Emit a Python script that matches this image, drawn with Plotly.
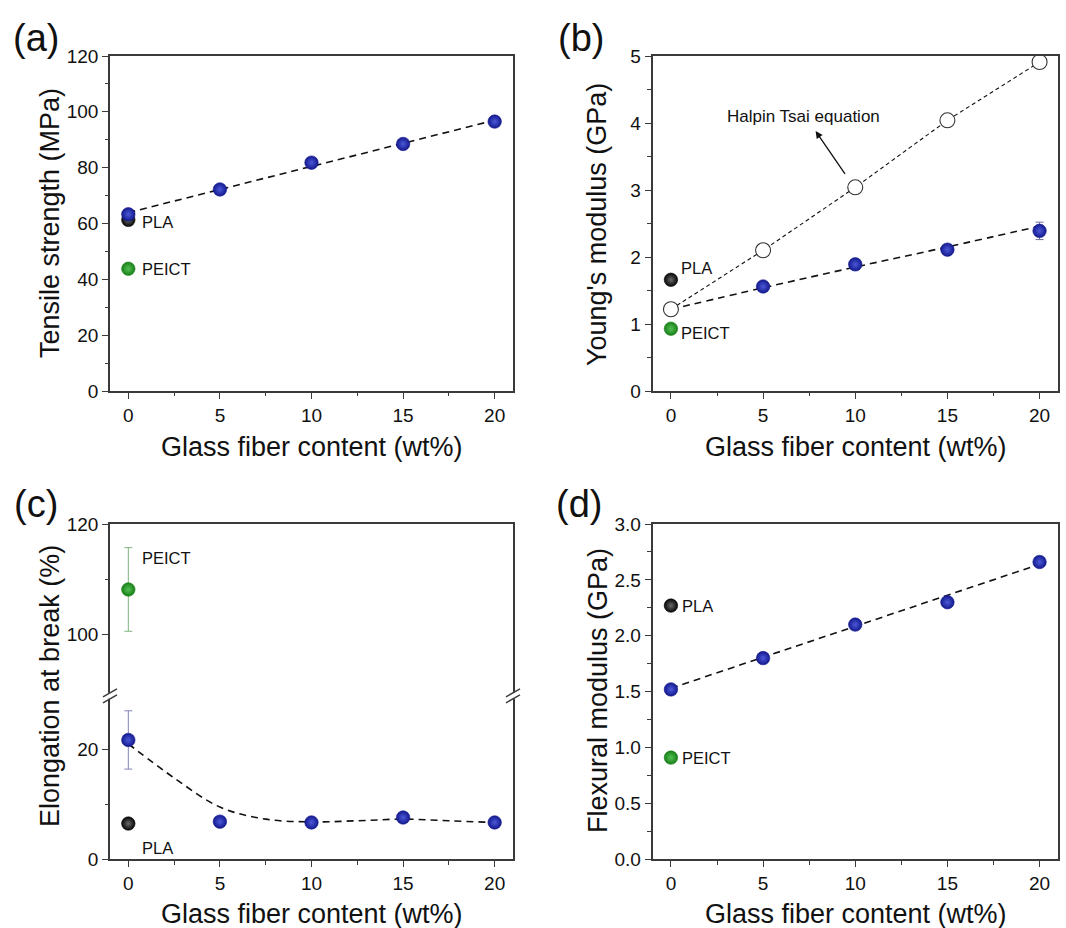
import plotly.graph_objects as go

W, H = 1066, 928

# ---------------- data ----------------
gf = [0, 5, 10, 15, 20]

# (a) tensile strength (MPa)
a_blend = [63.3, 72.2, 81.8, 88.5, 96.5]
a_pla = [61.3]
a_peict = [43.8]
a_fit_x = [0, 20]
a_fit_y = [63.9, 97.0]

# (b) Young's modulus (GPa)
b_blend = [1.22, 1.56, 1.89, 2.11, 2.39]
b_blend_err = [0.0, 0.0, 0.0, 0.0, 0.13]
b_halpin = [1.22, 2.10, 3.04, 4.04, 4.91]
b_pla = [1.66]
b_peict = [0.93]
b_fit_x = [0, 5, 10, 15, 20]
b_fit_y = [1.22, 1.54, 1.85, 2.15, 2.46]

# (c) elongation at break (%)
c_blend = [21.7, 6.85, 6.7, 7.6, 6.7]
c_blend_err = [5.3, 0.0, 0.0, 0.0, 0.0]
c_pla = [6.5]
c_peict = [108.1]
c_peict_err = [7.6]
c_fit_x = [0, 2.5, 5, 7.5, 10, 12.5, 15, 17.5, 20]
c_fit_y = [21.0, 14.8, 9.5, 7.3, 6.8, 7.0, 7.3, 7.0, 6.7]

# (d) flexural modulus (GPa)
d_blend = [1.52, 1.80, 2.10, 2.30, 2.66]
d_pla = [2.27]
d_peict = [0.91]
d_fit_x = [0, 20]
d_fit_y = [1.53, 2.64]

x_ticks = [0, 5, 10, 15, 20]
x_title = "Glass fiber content (wt%)"
y_titles = ["Tensile strength (MPa)", "Young's modulus (GPa)",
            "Elongation at break (%)", "Flexural modulus (GPa)"]

# ---------------- styles ----------------
FONT = "Arial, Liberation Sans, sans-serif"
BLUE, BLUE_C = "#141a8e", "#4b58d8"
GREEN, GREEN_C = "#1a7f1a", "#52c052"
BLACK, BLACK_C = "#050505", "#6a6a6a"
AX = "#3a3a3a"
MS = 13.5


def px(x):
    return x / W


def py(y):
    return 1 - y / H


def sphere(color, center, size=MS):
    return dict(size=size, color=color,
                gradient=dict(type="radial", color=center),
                line=dict(width=0.6, color=color))


fig = go.Figure()


def dashed(x, y, xa, ya, shape="linear", width=1.6, dash="7px,5px"):
    fig.add_trace(go.Scatter(x=x, y=y, mode="lines", xaxis=xa, yaxis=ya,
                             line=dict(color="#111", width=width, dash=dash,
                                       shape=shape, smoothing=1.0),
                             hoverinfo="skip"))


def pts(x, y, xa, ya, color, center, err=None, errcolor=None):
    kw = {}
    if err is not None:
        kw["error_y"] = dict(type="data", array=err, visible=True,
                             color=errcolor, thickness=1, width=4)
    fig.add_trace(go.Scatter(x=x, y=y, mode="markers", xaxis=xa, yaxis=ya,
                             marker=sphere(color, center), **kw))


# (a)
dashed(a_fit_x, a_fit_y, "x", "y")
pts([0], a_pla, "x", "y", BLACK, BLACK_C)
pts([0], a_peict, "x", "y", GREEN, GREEN_C)
pts(gf, a_blend, "x", "y", BLUE, BLUE_C)

# (b)
dashed(gf, b_halpin, "x2", "y2", width=1.1, dash="4px,3px")
dashed(b_fit_x, b_fit_y, "x2", "y2", shape="spline")
pts([0], b_pla, "x2", "y2", BLACK, BLACK_C)
pts([0], b_peict, "x2", "y2", GREEN, GREEN_C)
pts(gf, b_blend, "x2", "y2", BLUE, BLUE_C, err=b_blend_err, errcolor="#6d6fa8")
fig.add_trace(go.Scatter(x=gf, y=b_halpin, mode="markers", xaxis="x2", yaxis="y2",
                         marker=dict(size=15, color="white",
                                     line=dict(width=1.1, color="#333"))))

# (c) lower / upper
dashed(c_fit_x, c_fit_y, "x3", "y3", shape="spline")
pts([0], c_pla, "x3", "y3", BLACK, BLACK_C)
pts(gf, c_blend, "x3", "y3", BLUE, BLUE_C, err=c_blend_err, errcolor="#8285b8")
pts([0], c_peict, "x4", "y4", GREEN, GREEN_C, err=c_peict_err, errcolor="#7fb57f")

# (d)
dashed(d_fit_x, d_fit_y, "x5", "y5")
pts([0], d_pla, "x5", "y5", BLACK, BLACK_C)
pts([0], d_peict, "x5", "y5", GREEN, GREEN_C)
pts(gf, d_blend, "x5", "y5", BLUE, BLUE_C)

# ---------------- axes ----------------
XL = [px(110), px(513)]
XR = [px(652.5), px(1058)]
YT = [py(391), py(56)]
YB = [py(859.3), py(524)]

tickfont = dict(family=FONT, size=19, color="#111")
titlefont = dict(family=FONT, size=27, color="#111")


def xax(domain, anchor, **extra):
    d = dict(domain=domain, anchor=anchor, range=[-1, 21], automargin=False,
             tickvals=x_ticks, ticks="outside", ticklen=6, tickwidth=1.3,
             tickcolor=AX, showline=True, linecolor=AX, linewidth=1.6,
             mirror=True, showgrid=False, zeroline=False, tickfont=tickfont,
             minor=dict(ticks="outside", ticklen=3.5, tickwidth=1.1,
                        tickcolor=AX, tickvals=[2.5, 7.5, 12.5, 17.5]))
    d.update(extra)
    return d


def yax(domain, anchor, rng, dtick, minor, **extra):
    d = dict(domain=domain, anchor=anchor, range=rng, dtick=dtick, automargin=False,
             ticks="outside", ticklen=6, tickwidth=1.3, tickcolor=AX,
             showline=True, linecolor=AX, linewidth=1.6, mirror=True,
             showgrid=False, zeroline=False, tickfont=tickfont,
             minor=dict(ticks="outside", ticklen=3.5, tickwidth=1.1,
                        tickcolor=AX, **minor))
    d.update(extra)
    return d


c_low_top = 859.3 - 29.5 * 5.5
c_up_bot = 524 + 31 * 5.5

fig.update_layout(
    xaxis=xax(XL, "y"),
    yaxis=yax(YT, "x", [0, 120], 20, dict(dtick=10)),
    xaxis2=xax(XR, "y2"),
    yaxis2=yax(YT, "x2", [0, 5], 1, dict(dtick=0.5)),
    xaxis3=xax(XL, "y3", mirror=False),
    yaxis3=yax([py(859.3), py(c_low_top)], "x3", [0, 29.5], 20, dict(tickvals=[10])),
    xaxis4=xax(XL, "y4", side="top", mirror=False, ticks="",
               showticklabels=False, minor=dict(ticks="")),
    yaxis4=yax([py(c_up_bot), py(524)], "x4", [89, 120], None,
               dict(tickvals=[110]), tickvals=[100, 120]),
    xaxis5=xax(XR, "y5"),
    yaxis5=yax(YB, "x5", [0, 3], 0.5, dict(dtick=0.25), tickformat=".1f"),
    width=W, height=H, margin=dict(l=0, r=0, t=0, b=0, autoexpand=False),
    paper_bgcolor="white", plot_bgcolor="white", showlegend=False,
    font=dict(family=FONT, color="#111"),
)

ann = []

# axis titles
for xx, yy in [(312, 447), (856, 447), (312, 914), (856, 914)]:
    ann.append(dict(text=x_title, xref="paper", yref="paper", x=px(xx), y=py(yy),
                    showarrow=False, font=titlefont, xanchor="center", yanchor="middle"))
for t, xx, yy in zip(y_titles, [50, 597, 50, 598], [223, 225, 686, 691]):
    ann.append(dict(text=t, xref="paper", yref="paper", x=px(xx), y=py(yy),
                    textangle=-90, showarrow=False, font=titlefont,
                    xanchor="center", yanchor="middle"))

# panel letters
for lab, xx, yy in [("(a)", 36, 38), ("(b)", 581, 38), ("(c)", 36, 504), ("(d)", 579, 504)]:
    ann.append(dict(text=lab, xref="paper", yref="paper", x=px(xx), y=py(yy),
                    showarrow=False, font=dict(family=FONT, size=38, color="#111"),
                    xanchor="center", yanchor="middle"))

lab_font = dict(family=FONT, size=16.5, color="#111")


def label(text, x, y, xa, ya):
    ann.append(dict(text=text, x=x, y=y, xref=xa, yref=ya, showarrow=False,
                    xanchor="left", yanchor="middle", font=lab_font))


label("PLA", 0.62, 60.6, "x", "y")
label("PEICT", 0.62, 43.8, "x", "y")
label("PLA", 0.45, 1.84, "x2", "y2")
label("PEICT", 0.45, 0.86, "x2", "y2")
label("PEICT", 0.62, 113.8, "x4", "y4")
label("PLA", 0.62, 2.0, "x3", "y3")
label("PLA", 0.5, 2.27, "x5", "y5")
label("PEICT", 0.5, 0.91, "x5", "y5")

# Halpin Tsai annotation with arrow
ann.append(dict(text="Halpin Tsai equation", x=7.2, y=4.09, xref="x2", yref="y2",
                showarrow=False, font=dict(family=FONT, size=17, color="#111")))
ann.append(dict(x=7.85, y=3.88, ax=9.5, ay=3.22, xref="x2", yref="y2",
                axref="x2", ayref="y2", showarrow=True, arrowhead=2,
                arrowsize=1.1, arrowwidth=1.3, arrowcolor="#111", text=""))

fig.update_layout(annotations=ann)

# break marks on (c)
shapes = []
ybk = (c_low_top + c_up_bot) / 2
for xb in (110, 513):
    shapes.append(dict(type="rect", xref="paper", yref="paper",
                       x0=px(xb - 3), x1=px(xb + 3), y0=py(ybk + 3), y1=py(ybk - 3),
                       fillcolor="white", line=dict(width=0)))
    for off in (-3, 3):
        shapes.append(dict(type="line", xref="paper", yref="paper",
                           x0=px(xb - 7), y0=py(ybk + off + 4),
                           x1=px(xb + 7), y1=py(ybk + off - 4),
                           line=dict(color=AX, width=1.4)))
fig.update_layout(shapes=shapes)

fig.write_html(
    "out.html", config={"displayModeBar": False},
    post_script="document.body.style.margin='0';var d=document.getElementById('{plot_id}');"
                "d.style.position='fixed';d.style.top='0px';d.style.left='0px';")
